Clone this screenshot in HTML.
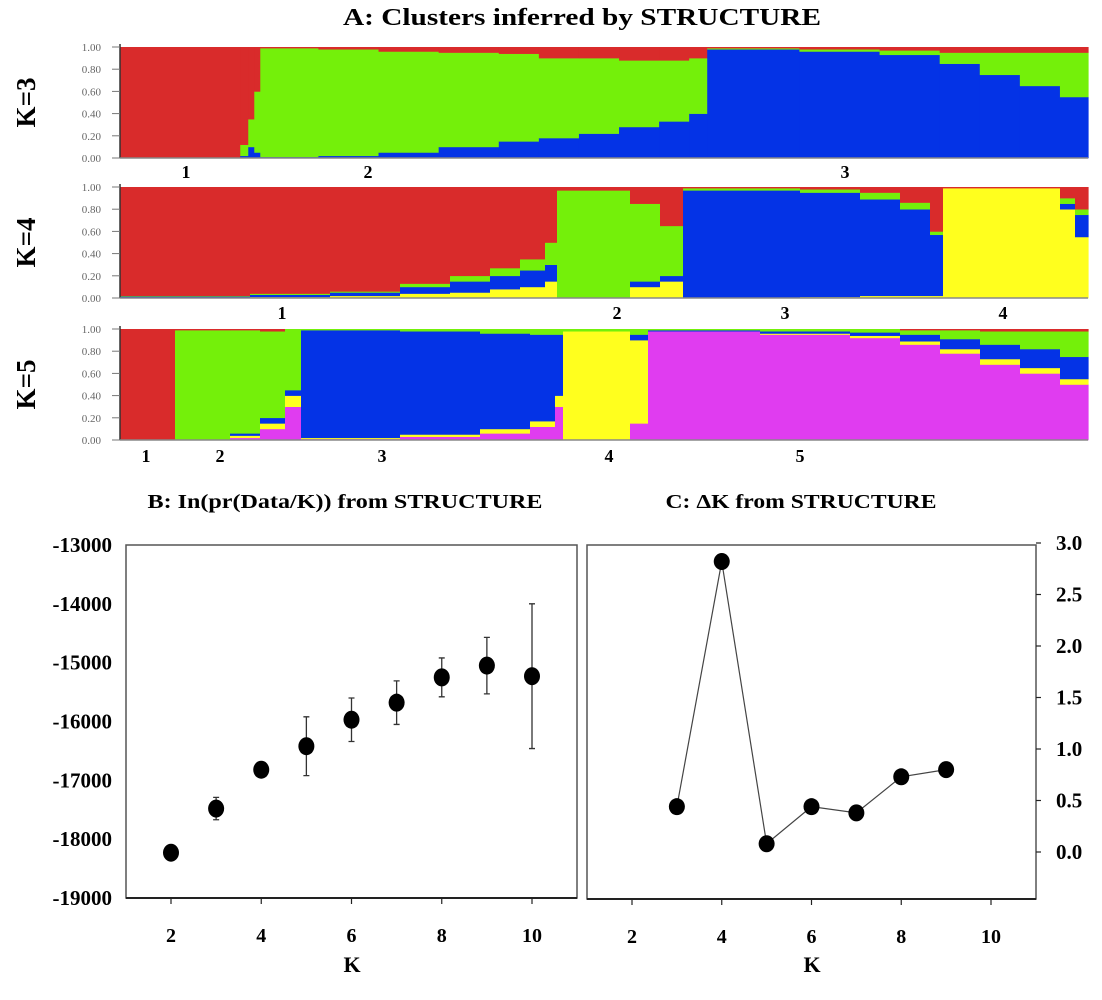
<!DOCTYPE html>
<html><head><meta charset="utf-8"><style>
body{margin:0;background:#fff}
svg{display:block}
text{font-family:"Liberation Serif",serif}
</style></head><body>
<svg id="fig" width="1102" height="1000" viewBox="0 0 1102 1000" xmlns="http://www.w3.org/2000/svg">
<text x="582" y="25" text-anchor="middle" font-size="24" font-weight="bold" textLength="478" lengthAdjust="spacingAndGlyphs">A: Clusters inferred by STRUCTURE</text>
<text x="345" y="508" text-anchor="middle" font-size="20" font-weight="bold" textLength="395" lengthAdjust="spacingAndGlyphs">B: In(pr(Data/K))  from STRUCTURE</text>
<text x="801" y="508" text-anchor="middle" font-size="20" font-weight="bold" textLength="271" lengthAdjust="spacingAndGlyphs">C: ΔK from STRUCTURE</text>
<g id="structure"></g>
<g id="chartB"></g>
<g id="chartC"></g>
</svg>
<script>
// ---------- STRUCTURE data (groups of individuals; widths = individual counts) ----------
// K=3 stacking bottom-up: blue, green, red
const k3Counts = [120,8,6,6,58,60,60,60,40,40,40,40,30,18,92,80,60,40,40,40,28];
const k3Blue   = [0,.02,.1,.05,.01,.02,.05,.1,.15,.18,.22,.28,.33,.4,.98,.96,.93,.85,.75,.65,.55];
const k3Green  = [0,.1,.25,.55,.98,.96,.91,.85,.79,.72,.68,.6,.55,.5,.01,.02,.04,.1,.2,.3,.4];
const k3Red    = [1,.88,.65,.4,.01,.02,.04,.05,.06,.1,.1,.12,.12,.1,.01,.02,.03,.05,.05,.05,.05];
// K=4 stacking bottom-up: yellow, blue, green, red
const k4Counts = [130,80,70,50,40,30,25,12,73,30,23,117,60,40,30,13,117,15,13];
const k4Yellow = [.005,.01,.02,.04,.05,.08,.1,.15,0,.1,.15,0,.01,.02,.02,.02,.99,.8,.55];
const k4Blue   = [.01,.02,.03,.06,.1,.12,.15,.15,0,.05,.05,.97,.94,.87,.78,.55,0,.05,.2];
const k4Green  = [.005,.01,.01,.03,.05,.07,.1,.2,.97,.7,.45,.02,.03,.06,.06,.03,0,.05,.05];
const k4Red    = [.98,.96,.94,.87,.8,.73,.65,.5,.03,.15,.35,.01,.02,.05,.14,.4,.01,.1,.2];
// K=5 stacking bottom-up: magenta, yellow, blue, green, red
const k5Counts = [55,55,30,25,16,99,80,50,25,8,67,18,112,90,50,40,40,40,40,28];
const k5Mag    = [0,0,.02,.1,.3,.01,.03,.06,.12,.3,0,.15,.98,.95,.92,.86,.78,.68,.6,.5];
const k5Yellow = [0,0,.02,.05,.1,.01,.02,.04,.05,.1,.98,.75,0,.01,.02,.03,.04,.05,.05,.05];
const k5Blue   = [0,0,.02,.05,.05,.97,.93,.86,.78,.55,0,.05,.01,.02,.03,.06,.09,.13,.17,.2];
const k5Green  = [0,.99,.93,.78,.55,.01,.02,.04,.05,.05,.02,.05,.01,.02,.03,.04,.08,.12,.16,.23];
const k5Red    = [1,.01,.01,.02,0,0,0,0,0,0,0,0,0,0,0,.01,.01,.02,.02,.02];
const yTickLabels = ["0.00","0.20","0.40","0.60","0.80","1.00"];
const k3ClusterLabels = ["1","2","3"];
const k4ClusterLabels = ["1","2","3","4"];
const k5ClusterLabels = ["1","2","3","4","5"];

// ---------- Chart B data ----------
const kValuesB = [2,3,4,5,6,7,8,9,10];
const lnMean = [-18230,-17480,-16820,-16420,-15970,-15680,-15250,-15050,-15230];
const lnErr  = [40,190,50,500,370,370,330,480,1230];
const bYTicks = [-13000,-14000,-15000,-16000,-17000,-18000,-19000];
const xTicks = [2,4,6,8,10];
// ---------- Chart C data ----------
const kValuesC = [3,4,5,6,7,8,9];
const deltaK = [0.44,2.82,0.08,0.44,0.38,0.73,0.80];
const cYTicks = ["0.0","0.5","1.0","1.5","2.0","2.5","3.0"];

const NS="http://www.w3.org/2000/svg";
function mk(tag, attrs, parent){const e=document.createElementNS(NS,tag);for(const k in attrs)e.setAttribute(k,attrs[k]);parent.appendChild(e);return e;}

const st=document.getElementById('structure');
const PX0=120, PX1=1088;
const panels=[
 {name:'k3',label:'K=3',top:47,bot:158,counts:k3Counts,series:[k3Blue,k3Green,k3Red],colors:['#0433e6','#74f00a','#d92b2b'],labels:k3ClusterLabels,lx:[186,368,845],ly:178},
 {name:'k4',label:'K=4',top:187,bot:298,counts:k4Counts,series:[k4Yellow,k4Blue,k4Green,k4Red],colors:['#ffff1e','#0433e6','#74f00a','#d92b2b'],labels:k4ClusterLabels,lx:[282,617,785,1003],ly:319},
 {name:'k5',label:'K=5',top:329,bot:440,counts:k5Counts,series:[k5Mag,k5Yellow,k5Blue,k5Green,k5Red],colors:['#e03cf0','#ffff1e','#0433e6','#74f00a','#d92b2b'],labels:k5ClusterLabels,lx:[146,220,382,609,800],ly:462}
];
panels.forEach(p=>{
  const g=mk('g',{},st);
  
  
  const total=p.counts.reduce((a,b)=>a+b,0);
  const xs=i=>PX0+(PX1-PX0)*i/total;
  const ys=v=>p.bot-(p.bot-p.top)*v;
  let cum=0;
  p.counts.forEach((c,i)=>{
    const x0=xs(cum), x1=xs(cum+c); cum+=c;
    let sum=0; p.series.forEach(s=>sum+=s[i]);
    let acc=0;
    p.series.forEach((s,j)=>{
      const v=s[i]/sum; if(v<=0)return;
      const r=mk('rect',{x:x0,y:ys(acc+v),width:x1-x0+0.6,height:(p.bot-p.top)*v+0.3,fill:p.colors[j]},g);
      
      
      acc+=v;
    });
  });
  mk('line',{x1:PX0,y1:p.top-3,x2:PX0,y2:p.bot,stroke:'#333','stroke-width':1.5},g);
  mk('line',{x1:PX0,y1:p.bot,x2:PX1,y2:p.bot,stroke:'#888','stroke-width':1.5},g);
  yTickLabels.forEach((t,i)=>{
    const y=ys(i/5);
    mk('line',{x1:PX0-8,y1:y,x2:PX0,y2:y,stroke:'#777','stroke-width':1},g);
    const tx=mk('text',{x:PX0-19,y:y+4,'text-anchor':'end','font-size':11,fill:'#666','font-family':'Liberation Sans'},g);
    
    
    tx.textContent=t;
  });
  const rl=mk('text',{x:0,y:0,transform:`translate(35,${(p.top+p.bot)/2}) rotate(-90)`,'text-anchor':'middle','font-size':27,'font-weight':'bold'},g);
  
  
  rl.textContent=p.label;
  p.labels.forEach((l,i)=>{
    const t=mk('text',{x:p.lx[i],y:p.ly,'text-anchor':'middle','font-size':18,'font-weight':'bold'},g);
    
    
    t.textContent=l;
  });
});

// ---------- Chart B ----------
const gB=document.getElementById('chartB');
const bL=126,bR=577,bT=545,bBot=898;
const xB=k=>171+(k-2)*(532-171)/8;
const yB=v=>bT+(-13000-v)*(bBot-bT)/6000;
mk('rect',{x:bL,y:bT,width:bR-bL,height:bBot-bT,fill:'none',stroke:'#555','stroke-width':1.5},gB);
mk('line',{x1:bL,y1:bBot,x2:bR,y2:bBot,stroke:'#222','stroke-width':2},gB);
bYTicks.forEach(v=>{
  const t=mk('text',{x:bL-14,y:yB(v)+7,'text-anchor':'end','font-size':21,'font-weight':'bold'},gB);
  
  
  t.textContent=String(v);
});
xTicks.forEach(k=>{
  mk('line',{x1:xB(k),y1:bBot,x2:xB(k),y2:bBot+6,stroke:'#222','stroke-width':1.2},gB);
  const t=mk('text',{x:xB(k),y:bBot+44,'text-anchor':'middle','font-size':20,'font-weight':'bold'},gB);
  
  
  t.textContent=String(k);
});
const bxl=mk('text',{x:352,y:972,'text-anchor':'middle','font-size':22,'font-weight':'bold'},gB);


bxl.textContent='K';
kValuesB.forEach((k,i)=>{
  const x=xB(k), y=lnMean[i], e=lnErr[i];
  const eb=mk('path',{d:`M${x},${yB(y+e)}V${yB(y-e)}M${x-3},${yB(y+e)}h6M${x-3},${yB(y-e)}h6`,stroke:'#333','stroke-width':1.3,fill:'none'},gB);
  
  
  const c=mk('ellipse',{cx:x,cy:yB(y),rx:8,ry:9,fill:'#000'},gB);
  
  
});

// ---------- Chart C ----------
const gC=document.getElementById('chartC');
const cL=587,cR=1036,cT=545,cBot=899;
const xC=k=>632+(k-2)*(991-632)/8;
const yC=v=>852-v*(852-543)/3;
mk('rect',{x:cL,y:cT,width:cR-cL,height:cBot-cT,fill:'none',stroke:'#555','stroke-width':1.5},gC);
mk('line',{x1:cL,y1:cBot,x2:cR,y2:cBot,stroke:'#222','stroke-width':2},gC);
cYTicks.forEach(v=>{
  const y=yC(parseFloat(v));
  mk('line',{x1:cR,y1:y,x2:cR+5,y2:y,stroke:'#222','stroke-width':1.2},gC);
  const t=mk('text',{x:cR+20,y:y+7,'font-size':21,'font-weight':'bold'},gC);
  
  
  t.textContent=v;
});
xTicks.forEach(k=>{
  mk('line',{x1:xC(k),y1:cBot,x2:xC(k),y2:cBot+6,stroke:'#222','stroke-width':1.2},gC);
  const t=mk('text',{x:xC(k),y:cBot+44,'text-anchor':'middle','font-size':20,'font-weight':'bold'},gC);
  
  
  t.textContent=String(k);
});
const cxl=mk('text',{x:812,y:972,'text-anchor':'middle','font-size':22,'font-weight':'bold'},gC);


cxl.textContent='K';
const pl=mk('polyline',{points:kValuesC.map((k,i)=>xC(k)+','+yC(deltaK[i])).join(' '),fill:'none',stroke:'#444','stroke-width':1.2},gC);


kValuesC.forEach((k,i)=>{
  const c=mk('ellipse',{cx:xC(k),cy:yC(deltaK[i]),rx:8,ry:8.5,fill:'#000'},gC);
  
  
});
</script>
</body></html>
